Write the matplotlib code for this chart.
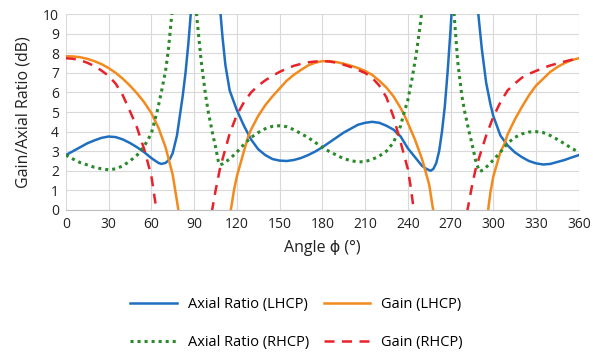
import numpy as np
import matplotlib
matplotlib.use("Agg")
import matplotlib.pyplot as plt

plt.rcParams["font.family"] = ["Open Sans", "DejaVu Sans"]

nan = np.nan

# Axial Ratio (LHCP)
ar_lhcp_angle = [0, 5, 10, 15, 20, 25, 30, 35, 40, 45, 50, 55, 60, 65, 67, 70, 73, 75, 78, 80, 82, 84, 86, 88, 89,
                 95,
                 107, 108.6, 110, 112, 115, 118, 120, 125, 130, 135, 140, 145, 150, 155, 160, 165, 170, 175, 180,
                 185, 190, 195, 200, 205, 210, 215, 220, 225, 230, 235, 240, 245, 250, 253, 256, 258, 260, 262,
                 264, 266, 268, 270, 271.5,
                 280,
                 288, 289.5, 292, 295, 298, 300, 305, 310, 315, 320, 325, 330, 335, 340, 345, 350, 355, 360]
ar_lhcp = [2.8, 3.0, 3.2, 3.4, 3.55, 3.68, 3.75, 3.72, 3.6, 3.42, 3.2, 2.95, 2.65, 2.4, 2.35, 2.4, 2.6, 2.9, 3.8,
           4.8, 5.8, 7.0, 8.5, 10.3, 11.5,
           nan,
           11.5, 10, 8.8, 7.4, 6.1, 5.5, 5.1, 4.3, 3.6, 3.1, 2.8, 2.6, 2.52, 2.5, 2.55, 2.65, 2.8, 2.98, 3.2,
           3.45, 3.7, 3.95, 4.15, 4.35, 4.45, 4.5, 4.45, 4.3, 4.1, 3.75, 3.15, 2.7, 2.25, 2.1, 2.0, 2.1, 2.4, 3.0,
           4.0, 5.3, 7.1, 9.2, 11.0,
           nan,
           11.5, 10, 8.2, 6.5, 5.4, 4.8, 3.8, 3.3, 2.95, 2.7, 2.5, 2.38, 2.32, 2.35, 2.45, 2.55, 2.68, 2.8]

# Axial Ratio (RHCP)
ar_rhcp_angle = [0, 5, 10, 15, 20, 25, 30, 35, 40, 45, 50, 55, 60, 64, 67, 70, 72, 74, 75.5,
                 82,
                 90.5, 92, 95, 98, 100, 103, 105, 107, 108, 110, 115, 120, 125, 130, 135, 140, 145, 150, 155,
                 160, 165, 170, 175, 180, 185, 190, 195, 200, 205, 210, 215, 220, 225, 230, 235, 237, 240, 243,
                 246, 249, 251,
                 260,
                 271.5, 272.5, 275, 278, 280, 283, 285, 288, 290.5, 293, 296, 300, 305, 310, 315, 320, 325, 330,
                 335, 340, 345, 350, 355, 360]
ar_rhcp = [2.8, 2.6, 2.42, 2.3, 2.18, 2.1, 2.05, 2.1, 2.25, 2.5, 2.8, 3.25, 3.9, 5.0, 6.0, 7.1, 8.2, 9.7, 11,
           nan,
           11, 9.8, 7.6, 5.9, 5.0, 3.9, 3.25, 2.5, 2.3, 2.35, 2.6, 2.95, 3.35, 3.7, 3.95, 4.15, 4.27, 4.3, 4.25,
           4.1, 3.9, 3.7, 3.45, 3.2, 2.98, 2.8, 2.62, 2.52, 2.45, 2.47, 2.58, 2.75, 3.0, 3.45, 4.3, 4.87, 5.6, 6.7,
           8.0, 9.6, 11,
           nan,
           11, 10, 7.6, 5.8, 5.0, 4.0, 3.4, 2.4, 1.96, 2.05, 2.25, 2.55, 2.95, 3.4, 3.7, 3.88, 3.98, 4.0,
           3.95, 3.8, 3.6, 3.38, 3.15, 2.95]

# Gain (LHCP)
gain_lhcp_angle = [0, 5, 10, 15, 20, 25, 30, 35, 40, 45, 50, 55, 60, 65, 70, 75, 79, 82,
                   100,
                   113, 115.8, 118, 120, 125, 128, 130, 135, 140, 145, 150, 155, 160, 165, 170, 175, 180, 185,
                   190, 195, 200, 205, 210, 215, 220, 225, 230, 235, 237.4, 240, 245, 250, 255, 257.8, 260,
                   280,
                   294, 296.4, 298, 300, 305, 308, 310, 315, 320, 325, 330, 335, 340, 345, 350, 355, 360]
gain_lhcp = [7.85, 7.84, 7.8, 7.72, 7.6, 7.45, 7.25, 7.0, 6.7, 6.35, 5.95, 5.5, 4.95, 4.2, 3.2, 1.8, 0, -2,
             nan,
             -2, 0, 1.0, 1.7, 3.0, 3.75, 4.1, 4.8, 5.35, 5.8, 6.2, 6.6, 6.9, 7.15, 7.38, 7.52, 7.6, 7.6,
             7.55, 7.47, 7.37, 7.25, 7.1, 6.9, 6.6, 6.25, 5.8, 5.2, 4.87, 4.45, 3.6, 2.6, 1.3, 0, -1.5,
             nan,
             -2, 0, 0.9, 1.7, 2.95, 3.4, 3.85, 4.6, 5.25, 5.85, 6.35, 6.7, 7.05, 7.3, 7.5, 7.65, 7.75]

# Gain (RHCP)
gain_rhcp_angle = [0, 5, 10, 15, 20, 25, 30, 35, 40, 45, 50, 55, 60, 63.6, 65,
                   85,
                   101, 102.7, 105, 108, 110, 115, 120, 125, 130, 135, 140, 145, 150, 155, 160, 165, 170, 175,
                   180, 185, 190, 195, 200, 205, 210, 215, 220, 225, 230, 232.8, 235, 240, 242, 244.2, 246,
                   265,
                   280, 281.9, 285, 287.5, 290, 295, 300, 305, 310, 315, 320, 325, 330, 335, 340, 345, 350, 355,
                   360]
gain_rhcp = [7.75, 7.72, 7.65, 7.52, 7.35, 7.12, 6.85, 6.45, 5.85, 5.05, 4.2, 3.1, 1.75, 0, -1,
             nan,
             -1, 0, 0.95, 2.05, 2.6, 3.9, 4.85, 5.5, 6.0, 6.35, 6.62, 6.85, 7.05, 7.22, 7.36, 7.46, 7.54, 7.58,
             7.6, 7.58, 7.52, 7.42, 7.3, 7.15, 7.0, 6.75, 6.35, 5.75, 4.75, 4.0, 3.45, 2.1, 1.2, 0, -1,
             nan,
             -1, 0, 1.2, 2.05, 2.65, 3.8, 4.75, 5.5, 6.1, 6.45, 6.75, 6.95, 7.1, 7.25, 7.38, 7.48, 7.58, 7.67,
             7.75]

x_ticks = list(range(0, 361, 30))
y_ticks = list(range(0, 11))

fig = plt.figure(figsize=(5.93, 3.54), dpi=100)
ax = fig.add_axes([0.111, 0.407, 0.865, 0.553])

l1, = ax.plot(ar_lhcp_angle, ar_lhcp, color="#1f6fc1", lw=1.8, label="Axial Ratio (LHCP)")
l2, = ax.plot(gain_lhcp_angle, gain_lhcp, color="#f28a1e", lw=1.8, label="Gain (LHCP)")
l3, = ax.plot(ar_rhcp_angle, ar_rhcp, color="#2a8a2a", lw=2.2, ls=(0, (1, 1.3)), label="Axial Ratio (RHCP)")
l4, = ax.plot(gain_rhcp_angle, gain_rhcp, color="#e8222a", lw=1.8, ls=(0, (4, 3)), label="Gain (RHCP)")

ax.set_xlim(0, 360)
ax.set_ylim(0, 10)
ax.set_xticks(x_ticks)
ax.set_yticks(y_ticks)
ax.tick_params(length=0, labelsize=10, colors="#222222", pad=5)
ax.grid(True, color="#d9d9d9", lw=0.8)
ax.set_axisbelow(True)
for s in ["top", "right", "left"]:
    ax.spines[s].set_visible(False)
ax.spines["bottom"].set_color("#bfbfbf")

ax.set_xlabel("Angle ϕ (°)", fontsize=11.5, color="#222222", labelpad=6)
ax.set_ylabel("Gain/Axial Ratio (dB)", fontsize=11.5, color="#222222", labelpad=8)

fig.legend(handles=[l1, l3, l2, l4], ncol=2, loc="center", bbox_to_anchor=(0.5, 0.086),
           frameon=False, fontsize=10.5, handlelength=3.2, handletextpad=0.75,
           labelspacing=1.57, columnspacing=1.0)

fig.savefig("out.png", dpi=100)
